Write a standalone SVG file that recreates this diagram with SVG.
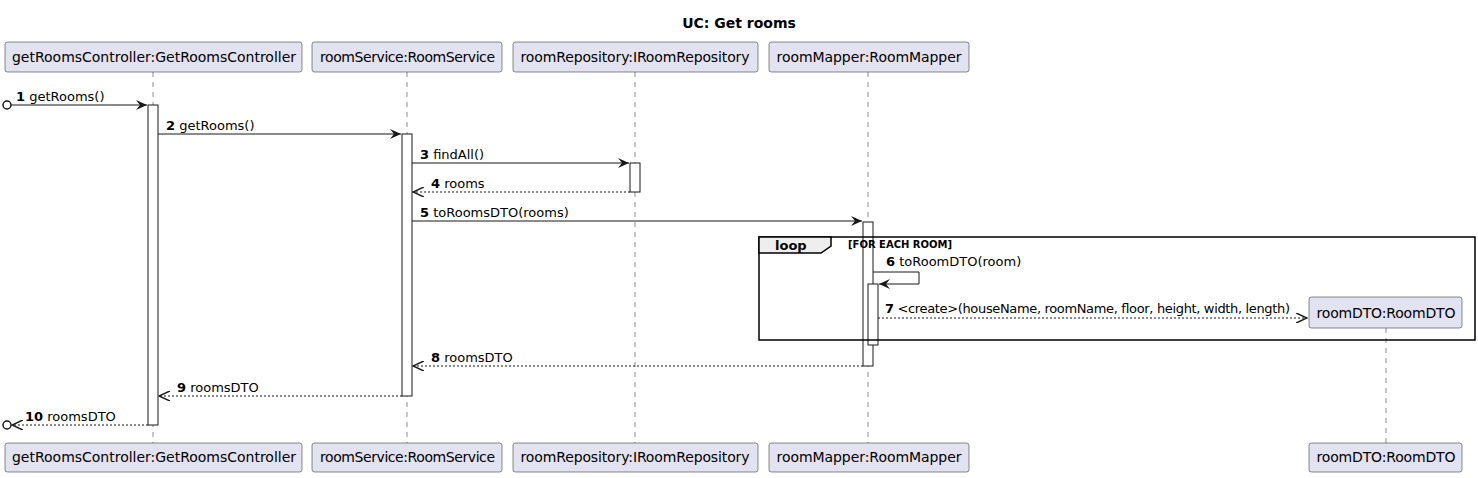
<svg xmlns="http://www.w3.org/2000/svg" width="1478" height="478" viewBox="0 0 1478 478">
<defs>
<style>
text{font-family:"DejaVu Sans","Liberation Sans",Arial,sans-serif;fill:#000}
.p rect{fill:#E2E2F0;stroke:#181818;stroke-width:0.5}
.p text{font-size:14px;text-anchor:middle}
.ll{stroke:#181818;stroke-width:0.5;stroke-dasharray:5,5}
.act{fill:#fff;stroke:#181818;stroke-width:1}
.m{stroke:#181818;stroke-width:1;fill:none}
.r{stroke:#181818;stroke-width:1;fill:none;stroke-dasharray:2,2}
.lbl{font-size:13px}
.n{font-weight:bold}
</style>
<marker id="ah" viewBox="0 0 12 10" refX="11" refY="5" markerWidth="12" markerHeight="10" markerUnits="userSpaceOnUse" orient="auto">
<path d="M0,0 L11,5 L0,10 L4,5 Z" fill="#181818"/>
</marker>
<marker id="ao" viewBox="0 0 12 10" refX="11" refY="5" markerWidth="12" markerHeight="10" markerUnits="userSpaceOnUse" orient="auto">
<path d="M0,0 L11,5 L0,10" fill="none" stroke="#181818" stroke-width="1.5"/>
</marker>
</defs>
<rect width="1478" height="478" fill="#fff"/>
<text x="739" y="28" font-size="14" font-weight="bold" text-anchor="middle" font-family="Liberation Sans, Arial, sans-serif">UC: Get rooms</text>

<g id="lifelines">
<line class="ll" x1="153" y1="72" x2="153" y2="443"/>
<line class="ll" x1="407" y1="72" x2="407" y2="443"/>
<line class="ll" x1="635" y1="72" x2="635" y2="443"/>
<line class="ll" x1="868" y1="72" x2="868" y2="443"/>
<line class="ll" x1="1386" y1="328" x2="1386" y2="443"/>
</g>

<g id="getRoomsController" class="p">
<rect x="5" y="42" width="297" height="30" rx="2.5"/>
<text x="154" y="62" textLength="284">getRoomsController:GetRoomsController</text>
<rect x="5" y="443" width="297" height="29" rx="2.5"/>
<text x="154" y="462" textLength="284">getRoomsController:GetRoomsController</text>
</g>
<g id="roomService" class="p">
<rect x="312" y="42" width="190" height="30" rx="2.5"/>
<text x="407.5" y="62" textLength="175">roomService:RoomService</text>
<rect x="312" y="443" width="190" height="29" rx="2.5"/>
<text x="407.5" y="462" textLength="175">roomService:RoomService</text>
</g>
<g id="roomRepository" class="p">
<rect x="513" y="42" width="245" height="30" rx="2.5"/>
<text x="635" y="62" textLength="229">roomRepository:IRoomRepository</text>
<rect x="513" y="443" width="245" height="29" rx="2.5"/>
<text x="635" y="462" textLength="229">roomRepository:IRoomRepository</text>
</g>
<g id="roomMapper" class="p">
<rect x="769" y="42" width="200" height="30" rx="2.5"/>
<text x="869" y="62" textLength="185">roomMapper:RoomMapper</text>
<rect x="769" y="443" width="200" height="29" rx="2.5"/>
<text x="869" y="462" textLength="185">roomMapper:RoomMapper</text>
</g>
<g id="roomDTO" class="p">
<rect x="1309" y="297" width="153" height="31" rx="2.5"/>
<text x="1386" y="318" textLength="139">roomDTO:RoomDTO</text>
<rect x="1309" y="443" width="153" height="29" rx="2.5"/>
<text x="1386" y="462" textLength="139">roomDTO:RoomDTO</text>
</g>

<g id="activations">
<rect class="act" x="148" y="105" width="10" height="320"/>
<rect class="act" x="402" y="134" width="10" height="262"/>
<rect class="act" x="630" y="163" width="10" height="29"/>
<rect class="act" x="863" y="222" width="10" height="144"/>
<rect class="act" x="868" y="284" width="10" height="61"/>
</g>

<g id="loop">
<rect x="759" y="237" width="716" height="103" fill="none" stroke="#000" stroke-width="1.5"/>
<path d="M759,237 H831 V246 L821,253 H759 Z" fill="#EEEEEE" stroke="#000" stroke-width="1.5"/>
<text x="775" y="250" font-size="13" font-weight="bold" font-family="Liberation Sans, Arial, sans-serif">loop</text>
<text x="848" y="248" font-size="10" font-weight="bold">[FOR EACH ROOM]</text>
</g>

<g id="connectors">
<circle cx="7" cy="105" r="4" fill="#fff" stroke="#181818" stroke-width="1.5"/>
<line class="m" x1="11" y1="105" x2="147" y2="105" marker-end="url(#ah)"/>
<text class="lbl" x="16" y="101"><tspan class="n">1</tspan> getRooms()</text>

<line class="m" x1="158" y1="134" x2="401" y2="134" marker-end="url(#ah)"/>
<text class="lbl" x="166" y="130"><tspan class="n">2</tspan> getRooms()</text>

<line class="m" x1="412" y1="163" x2="629" y2="163" marker-end="url(#ah)"/>
<text class="lbl" x="420" y="159"><tspan class="n">3</tspan> findAll()</text>

<line class="r" x1="630" y1="192" x2="413" y2="192" marker-end="url(#ao)"/>
<text class="lbl" x="431" y="188"><tspan class="n">4</tspan> rooms</text>

<line class="m" x1="412" y1="221" x2="862" y2="221" marker-end="url(#ah)"/>
<text class="lbl" x="420" y="217"><tspan class="n">5</tspan> toRoomsDTO(rooms)</text>

<polyline class="m" points="873,272 919,272 919,284 879,284" marker-end="url(#ah)"/>
<text class="lbl" x="886" y="266"><tspan class="n">6</tspan> toRoomDTO(room)</text>

<line class="r" x1="878" y1="318" x2="1307" y2="318" marker-end="url(#ao)"/>
<text class="lbl" x="885" y="313" textLength="405"><tspan class="n">7</tspan> &lt;create&gt;(houseName, roomName, floor, height, width, length)</text>

<line class="r" x1="863" y1="366" x2="413" y2="366" marker-end="url(#ao)"/>
<text class="lbl" x="431" y="362"><tspan class="n">8</tspan> roomsDTO</text>

<line class="r" x1="402" y1="396" x2="159" y2="396" marker-end="url(#ao)"/>
<text class="lbl" x="177" y="392"><tspan class="n">9</tspan> roomsDTO</text>

<circle cx="7" cy="425" r="4" fill="#fff" stroke="#181818" stroke-width="1.5"/>
<line class="r" x1="148" y1="425" x2="12" y2="425" marker-end="url(#ao)"/>
<text class="lbl" x="25" y="421"><tspan class="n">10</tspan> roomsDTO</text>
</g>
</svg>
